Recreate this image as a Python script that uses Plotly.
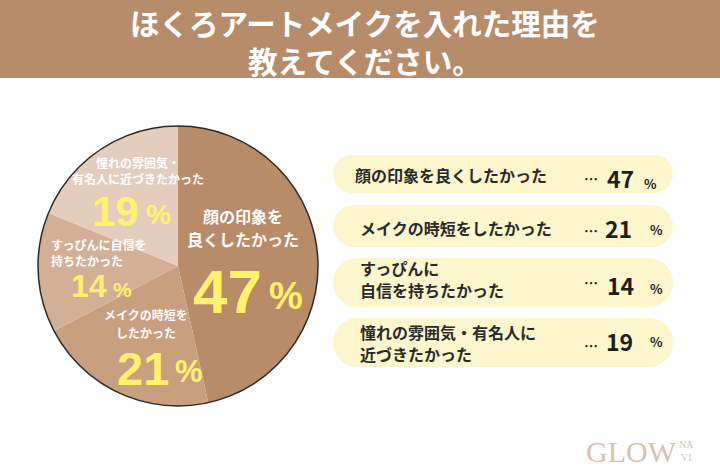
import plotly.graph_objects as go

# ---------------- data ----------------
categories = ["顔の印象を良くしたかった", "メイクの時短をしたかった",
              "すっぴんに自信を持ちたかった", "憧れの雰囲気・有名人に近づきたかった"]
values = [47, 21, 14, 19]
pie_label_lines = [["顔の印象を", "良くしたかった"],
                   ["メイクの時短を", "したかった"],
                   ["すっぴんに自信を", "持ちたかった"],
                   ["憧れの雰囲気・", "有名人に近づきたかった"]]
legend_label_lines = [["顔の印象を良くしたかった"],
                      ["メイクの時短をしたかった"],
                      ["すっぴんに", "自信を持ちたかった"],
                      ["憧れの雰囲気・有名人に", "近づきたかった"]]
title_lines = ["ほくろアートメイクを入れた理由を", "教えてください。"]

# ---------------- style ----------------
W, H = 720, 474
slice_colors = ["#b98c69", "#c89f7f", "#d3af96", "#e5cdbd"]
BAR = "#b68c6a"
PILL = "#fdf5cb"
YEL = "#fff36b"
DARK = "#2a2a2a"
FONT = "Noto Sans CJK JP"
NUMFONT = "Liberation Sans"


def px(x):
    return x / W


def py(y):
    return 1 - y / H


fig = go.Figure()
fig.add_trace(go.Pie(
    labels=categories, values=values, sort=False, direction="clockwise",
    rotation=0, marker=dict(colors=slice_colors, line=dict(width=0)),
    textinfo="none", hoverinfo="label+value", showlegend=False,
    domain=dict(x=[px(38), px(318)], y=[py(406), py(126)]),
))

shapes = []
annotations = []

# title bar
shapes.append(dict(type="rect", xref="paper", yref="paper", x0=0, x1=1,
                   y0=py(78), y1=1, fillcolor=BAR, line=dict(width=0), layer="below"))
annotations.append(dict(text="<br>".join(title_lines), x=px(365), y=py(40.8), xref="paper",
                        yref="paper", showarrow=False, xanchor="center", yanchor="middle",
                        align="center",
                        font=dict(family=FONT, size=29.5, color="white", weight="bold")))

# pie outline
shapes.append(dict(type="circle", xref="paper", yref="paper", x0=px(38), x1=px(318),
                   y0=py(406), y1=py(126), line=dict(color=DARK, width=1.5),
                   fillcolor="rgba(0,0,0,0)", layer="above"))

# pie inside labels (layout): (x, anchor, [line centers y], font size)
pie_lab_pos = [
    (243, "center", [216, 238.5], 16),
    (146, "center", [314.5, 332], 12),
    (49, "left", [244.5, 260], 12),
    (138, "center", [162.5, 178], 12),
]
pie_num_pos = [  # (digits right x, digits y, size, pct x, pct y, pct size)
    (264, 291, 62, 267, 296, 38),
    (171, 368, 47, 173, 371, 31),
    (109, 286, 32, 111, 289, 21),
    (141, 211, 42, 144, 214, 28),
]
for i in range(len(values)):
    x, anc, ys, fs = pie_lab_pos[i]
    for line, yy in zip(pie_label_lines[i], ys):
        annotations.append(dict(text=line, x=px(x), y=py(yy),
                                xref="paper", yref="paper",
                                showarrow=False, xanchor=anc, yanchor="middle",
                                font=dict(family=FONT, size=fs, color="white", weight="bold")))
    dx, dy, ds, qx, qy, qs = pie_num_pos[i]
    annotations.append(dict(text=str(values[i]), x=px(dx), y=py(dy), xref="paper", yref="paper",
                            showarrow=False, xanchor="right", yanchor="middle",
                            font=dict(family=NUMFONT, size=ds, color=YEL, weight="bold")))
    annotations.append(dict(text="%", x=px(qx), y=py(qy), xref="paper", yref="paper",
                            showarrow=False, xanchor="left", yanchor="middle",
                            font=dict(family=NUMFONT, size=qs, color=YEL, weight="bold")))

# legend pills
pill_rows = [(155, 193), (205, 247), (258, 307), (318, 367)]
pill_x0, pill_x1 = 333, 673
label_x = [353, 358, 358, 358]
label_ys = [[175], [228], [268, 290], [331.5, 353.5]]
dots_y = [178, 230, 282, 345]
num_y = [178, 228, 285, 341]
num_right = [636, 634, 636, 635]
pct_x = [642, 648, 648, 648]
pct_y = [183, 229, 288, 341]
for i, (y0, y1) in enumerate(pill_rows):
    r = (y1 - y0) / 2
    shapes.append(dict(type="rect", xref="paper", yref="paper", x0=px(pill_x0 + r), x1=px(pill_x1 - r),
                       y0=py(y1), y1=py(y0), fillcolor=PILL, line=dict(width=0), layer="below"))
    for cx in (pill_x0 + r, pill_x1 - r):
        shapes.append(dict(type="circle", xref="paper", yref="paper", x0=px(cx - r), x1=px(cx + r),
                           y0=py(y1), y1=py(y0), fillcolor=PILL, line=dict(width=0), layer="below"))
    for line, yy in zip(legend_label_lines[i], label_ys[i]):
        annotations.append(dict(text=line, x=px(label_x[i]), y=py(yy), xref="paper", yref="paper",
                                showarrow=False, xanchor="left", yanchor="middle",
                                font=dict(family=FONT, size=16, color=DARK, weight="bold")))
    annotations.append(dict(text="…", x=px(591), y=py(dots_y[i]), xref="paper", yref="paper",
                            showarrow=False, xanchor="center", yanchor="middle",
                            font=dict(family=FONT, size=14, color=DARK, weight="bold")))
    annotations.append(dict(text=str(values[i]), x=px(num_right[i]), y=py(num_y[i]), xref="paper",
                            yref="paper", showarrow=False, xanchor="right", yanchor="middle",
                            font=dict(family=FONT, size=23, color="#1e1e1e", weight="bold")))
    annotations.append(dict(text="%", x=px(pct_x[i]), y=py(pct_y[i]), xref="paper", yref="paper",
                            showarrow=False, xanchor="left", yanchor="middle",
                            font=dict(family=FONT, size=13, color="#1e1e1e", weight="bold")))

# logo
LOGO = "#d9c2ad"
annotations.append(dict(text="GLOW", x=px(584), y=py(451), xref="paper", yref="paper",
                        showarrow=False, xanchor="left", yanchor="middle",
                        font=dict(family="Liberation Serif", size=30, color=LOGO)))
annotations.append(dict(text="NA<br>VI", x=px(686), y=py(451), xref="paper", yref="paper",
                        showarrow=False, xanchor="center", yanchor="middle", align="center",
                        font=dict(family="Liberation Serif", size=10, color=LOGO)))

fig.update_layout(width=W, height=H, margin=dict(l=0, r=0, t=0, b=0),
                  paper_bgcolor="white", plot_bgcolor="white",
                  shapes=shapes, annotations=annotations)
fig.write_html("out.html", config={"displayModeBar": False},
               post_script="document.body.style.margin='0';document.body.style.overflow='hidden';")
